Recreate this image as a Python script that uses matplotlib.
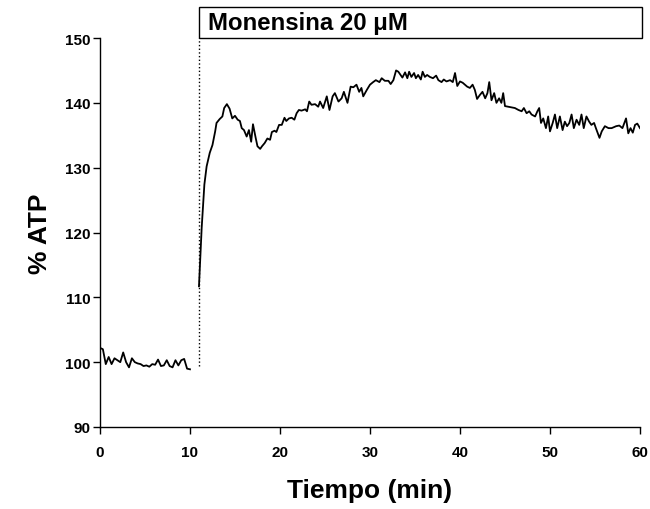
import numpy as np
import matplotlib.pyplot as plt
from matplotlib.patches import Rectangle

plt.rcParams['font.family'] = ['Liberation Sans', 'DejaVu Sans']
plt.rcParams['font.weight'] = 'bold'

# basal ATP before monensin (0-10 min)
basal_atp = [102.2, 102.0, 99.7, 100.8, 99.7, 100.6, 100.3, 100.0, 101.5, 100.0,
             99.2, 100.6, 100.0, 99.8, 99.7, 99.4, 99.5, 99.3, 99.7, 99.6,
             100.4, 99.4, 99.5, 100.3, 99.4, 99.2, 100.3, 99.5, 100.3, 100.5,
             99.0, 98.9]
basal_t = np.linspace(0, 10, len(basal_atp))

# after monensin addition (11-60 min)
mon_t = [11.0, 11.3, 11.6, 11.85, 12.2, 12.5, 12.8, 12.95, 13.3, 13.6,
         13.8, 14.1, 14.4, 14.7, 15.0, 15.3, 15.55, 15.75, 16.0, 16.3,
         16.55, 16.8, 17.0, 17.3, 17.5, 17.8, 18.0, 18.3, 18.6, 18.9,
         19.1, 19.4, 19.6, 19.9, 20.2, 20.5, 20.7, 21.0, 21.3, 21.6,
         21.85, 22.1, 22.4, 22.8, 23.0, 23.25, 23.5, 23.9, 24.25, 24.45,
         24.8, 25.2, 25.5, 25.85, 26.1, 26.5, 26.85, 27.1, 27.5, 27.85,
         28.15, 28.5, 28.8, 29.05, 29.25, 29.65, 30.0, 30.35, 30.65, 31.05,
         31.3, 31.65, 32.05, 32.3, 32.6, 32.9, 33.15, 33.4, 33.6, 33.9,
         34.15, 34.35, 34.6, 34.9, 35.1, 35.35, 35.65, 35.85, 36.1, 36.35,
         36.65, 37.0, 37.35, 37.6, 37.95, 38.2, 38.5, 38.9, 39.2, 39.45,
         39.7, 40.0, 40.3, 40.55, 40.8, 41.1, 41.4, 41.65, 41.9, 42.2,
         42.5, 42.8, 43.05, 43.25, 43.5, 43.8, 44.05, 44.35, 44.6, 44.8,
         45.0, 45.35, 45.75, 46.1, 46.5, 46.85, 47.1, 47.4, 47.7, 47.95,
         48.35, 48.6, 48.8, 49.0, 49.25, 49.55, 49.8, 50.0, 50.3, 50.55,
         50.8, 51.1, 51.4, 51.65, 51.9, 52.15, 52.4, 52.65, 52.95, 53.25,
         53.5, 53.75, 54.05, 54.35, 54.6, 54.9, 55.1, 55.5, 55.75, 56.1,
         56.5, 56.85, 57.35, 57.7, 58.05, 58.45, 58.7, 58.95, 59.2, 59.45,
         59.7, 60.0]
mon_atp = [111.7, 120.7, 127.4, 130.2, 132.3, 133.5, 135.6, 136.9, 137.5, 137.9,
           139.2, 139.8, 139.1, 137.6, 138.0, 137.4, 137.2, 136.1, 135.8, 134.8,
           135.8, 134.0, 136.7, 134.6, 133.3, 132.9, 133.3, 133.8, 134.5, 134.3,
           135.5, 135.7, 135.5, 136.6, 136.6, 137.7, 137.2, 137.6, 137.7, 137.4,
           138.4, 138.9, 138.8, 139.0, 138.7, 140.2, 139.7, 139.8, 139.4, 140.2,
           139.2, 141.0, 138.9, 141.0, 141.5, 140.2, 140.7, 141.7, 140.0, 142.5,
           142.4, 142.8, 141.7, 142.3, 141.0, 142.0, 142.8, 143.2, 143.5, 143.2,
           143.8, 143.4, 143.4, 142.9, 143.5, 145.0, 144.8, 144.3, 143.9, 144.7,
           143.8, 144.8, 144.0, 144.6, 143.8, 144.3, 143.6, 144.8, 144.0, 144.3,
           144.0, 143.8, 144.2, 143.5, 143.2, 143.6, 143.3, 143.5, 143.2, 144.6,
           142.6, 143.3, 143.1, 142.8, 142.5, 142.3, 142.8, 142.0, 140.6, 141.2,
           141.7, 140.7, 141.5, 143.2, 140.4, 141.5, 140.0, 140.7, 140.0, 141.5,
           139.5, 139.4, 139.3, 139.2, 138.9, 138.7, 139.2, 138.4, 138.7, 138.2,
           137.9, 138.7, 139.2, 136.9, 137.6, 136.1, 137.9, 135.6, 136.9, 138.2,
           136.1, 137.9, 135.8, 137.1, 136.4, 136.9, 138.2, 136.1, 137.4, 136.6,
           138.2, 136.1, 137.9, 137.1, 136.6, 136.9, 136.1, 134.6, 135.6, 136.4,
           136.1, 136.1, 136.4, 136.5, 136.1, 137.6, 135.3, 136.1, 135.4, 136.6,
           136.8, 136.1]

t_add = 11
label = 'Monensina 20 \u03bcM'

fig = plt.figure(figsize=(6.5, 5.1), dpi=100)
ax = fig.add_axes([0.1538, 0.1608, 0.8308, 0.7627])

ax.plot(basal_t, basal_atp, color='black', lw=1.3)
ax.plot(mon_t, mon_atp, color='black', lw=1.3)
ax.plot([t_add, t_add], [99.4, 150], color='black', lw=1.0, ls=':')

# caja con el tratamiento encima del grafico
ax.add_patch(Rectangle((t_add, 150), 60.2 - t_add, 4.8, fill=False,
                       edgecolor='black', lw=1.0, clip_on=False))
ax.text(t_add + 1.0, 152.4, label, fontsize=17.3, fontweight='bold',
        va='center', ha='left')

ax.set_xlim(0, 60)
ax.set_ylim(90, 150)
ax.set_xticks(np.arange(0, 61, 10))
ax.set_yticks(np.arange(90, 151, 10))
ax.tick_params(direction='out', length=5, width=1, labelsize=11, pad=2)
ax.tick_params(axis='x', pad=8)
for s in ['top', 'right']:
    ax.spines[s].set_visible(False)
for s in ['left', 'bottom']:
    ax.spines[s].set_linewidth(1)

ax.set_xlabel('Tiempo (min)', fontsize=19, fontweight='bold', labelpad=14)
ax.set_ylabel('% ATP', fontsize=19, fontweight='bold', labelpad=9)

plt.savefig('out.png', dpi=100)
